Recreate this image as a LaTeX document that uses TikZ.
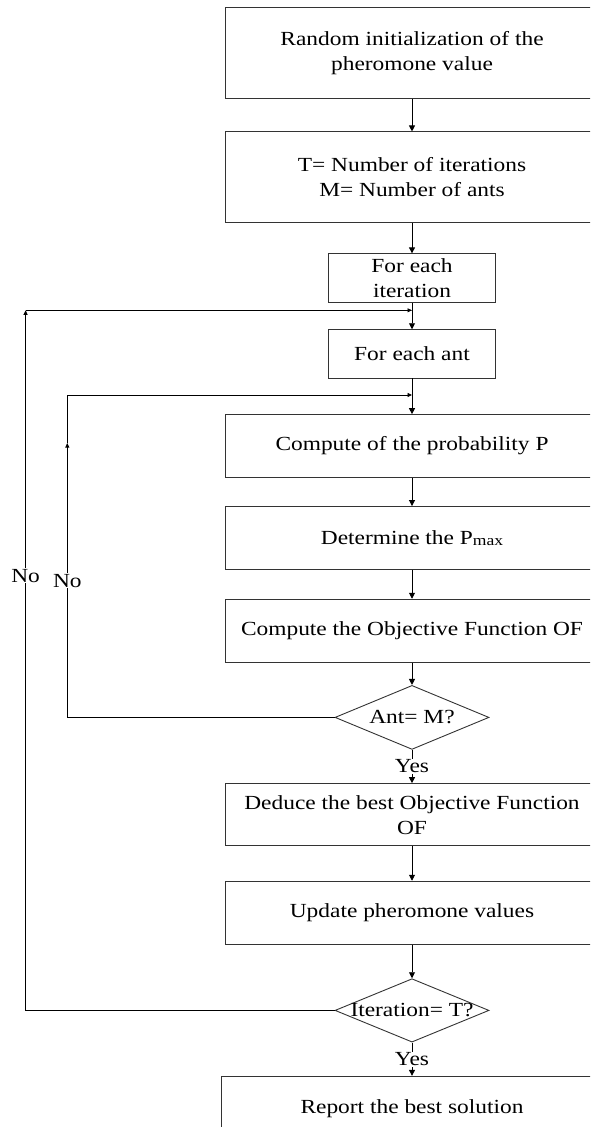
\documentclass[tikz,border=0pt]{standalone}
\usepackage{fontspec}
\setmainfont{Liberation Serif}[FakeStretch=1.17]
\usetikzlibrary{arrows.meta, positioning, shapes.geometric}

\begin{document}
\begin{tikzpicture}[x=1pt, y=-1pt,
      every node/.style={font=\fontsize{20}{25}\selectfont},
      box/.style={draw=black!80, line width=0.9pt, minimum width=374pt, minimum height=63pt,
                  align=center, inner sep=2pt},
      small/.style={box, minimum width=167pt, minimum height=48.3pt},
      dec/.style={diamond, draw=black!80, line width=0.9pt, minimum width=154pt, minimum height=64pt,
                  inner sep=0pt},
      arr/.style={-{Triangle[length=6pt, width=6pt]}, line width=0.9pt},
      back/.style={-{Triangle[length=4.5pt, width=4pt]}, line width=0.9pt},
      lbl/.style={fill=white, inner sep=1pt}
    ]
    \useasboundingbox (0,0) rectangle (590,1127);
    \clip (0,0) rectangle (590,1127);
    \node[box, minimum height=91pt] (init) at (412,52.8) {Random initialization of the\\pheromone value};
    \node[box, minimum height=91pt, below=32.7pt of init] (param) {T= Number of iterations\\M= Number of ants};
    \node[small, below=30pt of param] (iter) {For each\\iteration};
    \node[small, below=26.7pt of iter] (ant) {For each ant};
    \node[box, minimum height=62.6pt, below=35.7pt of ant] (prob) {Compute of the probability P};
    \node[box, below=28.4pt of prob] (pmax) {Determine the P\raisebox{-1pt}{\fontsize{15}{15}\selectfont max}};
    \node[box, below=28.8pt of pmax] (obj) {Compute the Objective Function OF};
    \node[dec, below=22.3pt of obj] (dant) {\makebox[0pt]{Ant= M?}};
    \node[box, minimum height=62.3pt, below=33.3pt of dant] (best) {Deduce the best Objective Function\\OF};
    \node[box, below=34.4pt of best] (upd) {Update pheromone values};
    \node[dec, minimum height=63.4pt, below=33.6pt of upd] (diter) {\makebox[0pt]{Iteration= T?}};
    \node[box, minimum width=382pt, minimum height=64pt, below=33.3pt of diter] (rep) {Report the best solution};

    \coordinate (j2) at (412,310.3);
    \coordinate (up2) at (25.6,310.3);
    \coordinate (j1) at (412,395);
    \coordinate (up1) at (67.3,443);

    \draw[arr] (init) -- (param);
    \draw[arr] (param) -- (iter);
    \draw[arr] (iter) -- (ant);
    \draw[arr] (ant) -- (prob);
    \draw[arr] (prob) -- (pmax);
    \draw[arr] (pmax) -- (obj);
    \draw[arr] (obj) -- (dant);
    \draw[arr] (dant) -- (best) node[midway, lbl] (yes1) {Yes};
    \draw[arr] (best) -- (upd);
    \draw[arr] (upd) -- (diter);
    \draw[arr] (diter) -- (rep) node[midway, lbl] (yes2) {Yes};

    \draw[back] (dant.west) -| (up1);
    \draw[back] (up1) |- (j1);
    \draw[back] (diter.west) -| (up2);
    \draw[back] (up2) -- (j2);

    \node[lbl] (no1) at (25.6,575.7) {No};
    \node[lbl] (no2) at (67.3,580.7) {No};
  \end{tikzpicture}
\end{document}
